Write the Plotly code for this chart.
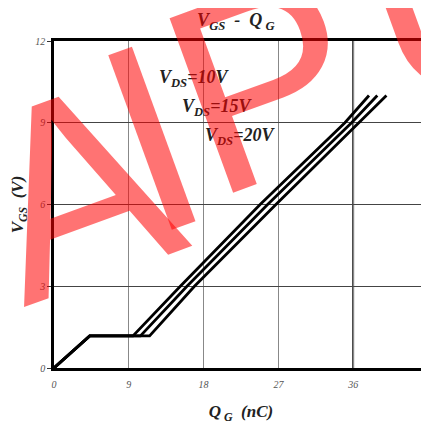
import plotly.graph_objects as go

# gate charge curves
qg_10v = [0, 4.3, 9.5, 15.2, 24.8, 35.0, 37.9]
vgs_10v = [0, 1.18, 1.18, 3, 6, 9, 10.0]
qg_15v = [0, 4.3, 10.4, 16.0, 25.7, 35.8, 38.9]
vgs_15v = [0, 1.18, 1.18, 3, 6, 9, 10.0]
qg_20v = [0, 4.3, 11.5, 16.9, 26.7, 36.6, 40.0]
vgs_20v = [0, 1.18, 1.18, 3, 6, 9, 10.0]

x_ticks = [0, 9, 18, 27, 36, 45]
y_ticks = [0, 3, 6, 9, 12]
labels = ["V<sub>DS</sub>=10V", "V<sub>DS</sub>=15V", "V<sub>DS</sub>=20V"]
watermark = "AIPU"

SERIF = "Liberation Serif"

fig = go.Figure()
for qg, vgs in [(qg_10v, vgs_10v), (qg_15v, vgs_15v), (qg_20v, vgs_20v)]:
    fig.add_trace(go.Scatter(x=qg, y=vgs, mode="lines",
                             line=dict(color="black", width=2.8),
                             showlegend=False, hoverinfo="skip"))

# the heavy line at 36 nC
fig.add_shape(type="line", x0=36, x1=36, y0=0, y1=12, xref="x", yref="y",
              line=dict(color="black", width=1.8), layer="below")

# page body has an 8px margin, margins below allow for that
fig.update_layout(
    width=429, height=423,
    margin=dict(l=46, r=9, t=33, b=63),
    paper_bgcolor="white", plot_bgcolor="white",
    title=dict(text="<b><i>V<sub>GS</sub>  -  Q<sub> G</sub></i></b>",
               x=0.531, xanchor="center", y=0.972, yanchor="middle",
               font=dict(family=SERIF, size=18, color="#222")),
)
fig.update_xaxes(range=[0, 45], tickvals=x_ticks,
                 ticktext=["<i>%d</i>" % v for v in x_ticks], ticks="",
                 ticklabelstandoff=5, automargin=False,
                 showline=True, linecolor="black", linewidth=2.5, mirror=True,
                 showgrid=True, gridcolor="#888", gridwidth=1, zeroline=False,
                 tickfont=dict(family=SERIF, size=10, color="#555"),
                 title=dict(text="<b><i>Q<sub> G</sub>  (nC)</i></b>",
                            font=dict(family=SERIF, size=17, color="#222"),
                            standoff=17))
fig.update_yaxes(range=[0, 12], tickvals=y_ticks,
                 ticktext=["<i>%d</i>" % v for v in y_ticks],
                 ticks="outside", ticklen=4, tickcolor="#333",
                 automargin=False,
                 showline=True, linecolor="black", linewidth=2.5, mirror=True,
                 showgrid=True, gridcolor="#444", gridwidth=1, zeroline=False,
                 tickfont=dict(family=SERIF, size=10, color="#555"),
                 title=dict(text="<b><i>V<sub>GS</sub>  (V)</i></b>",
                            font=dict(family=SERIF, size=17, color="#222"),
                            standoff=11))

# curve labels
for i, txt in enumerate(labels):
    fig.add_annotation(text="<b><i>" + txt + "</i></b>", xref="paper", yref="paper",
                       x=0.373 + i * 0.062, y=0.885 - i * 0.088,
                       xanchor="center", yanchor="middle", showarrow=False,
                       font=dict(family=SERIF, size=18, color="#222"))

# red watermark over everything, one letter at a time along a slanted baseline
wm_pos = [(0.06, 0.55), (0.262, 0.706), (0.565, 0.875), (1.09, 1.15)]
for ch, (px, py) in zip(watermark, wm_pos):
    fig.add_annotation(text=ch, xref="paper", yref="paper", x=px, y=py,
                       xanchor="center", yanchor="middle", showarrow=False,
                       textangle=-20,
                       font=dict(family="Liberation Sans", size=270,
                                 color="rgba(255,0,0,0.55)"))

fig.write_html("out.html")
